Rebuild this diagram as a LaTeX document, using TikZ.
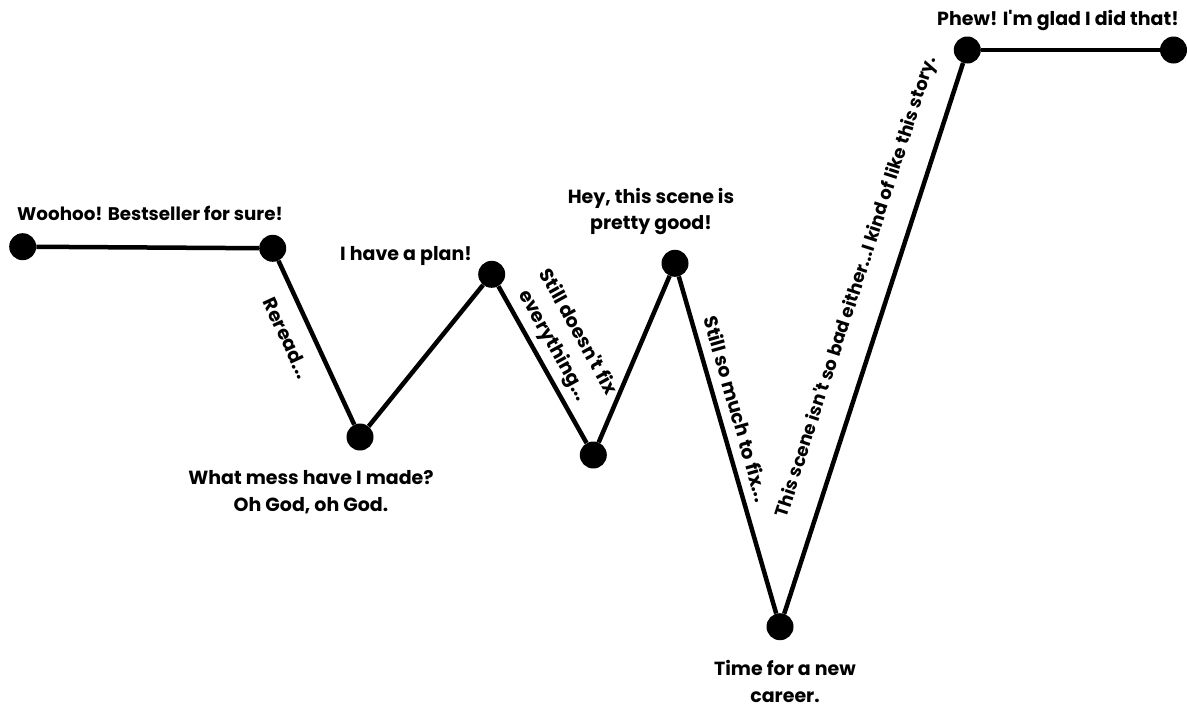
\documentclass[tikz,border=0pt]{standalone}
\usepackage{fontspec}
\setmainfont{Poppins}
\newcommand{\apo}{\textquotesingle}
\begin{document}
\begin{tikzpicture}[x=1pt,y=-1pt,
  dot/.style={circle,fill=black,draw=none,minimum size=27pt,inner sep=0pt},
  conn/.style={line width=4.5pt,black},
  lbl/.style={font=\bfseries\fontsize{19}{26.5}\selectfont,inner sep=0pt,align=center},
  slbl/.style={font=\bfseries\fontsize{19}{28}\selectfont,inner sep=0pt,align=center}]
\useasboundingbox[fill=white] (0,0) rectangle (1187,707);
% points
\node[dot] (p1) at (22.7,246.7) {};
\node[dot] (p2) at (272.7,248.3) {};
\node[dot] (p3) at (360,437) {};
\node[dot] (p4) at (491.7,274.3) {};
\node[dot] (p5) at (593.3,455) {};
\node[dot] (p6) at (675,263.3) {};
\node[dot] (p7) at (780,626.7) {};
\node[dot] (p8) at (967.3,50) {};
\node[dot] (p9) at (1173.5,50) {};
% connectors
\draw[conn] (p1) -- (p2);
\draw[conn] (p2) -- (p3);
\draw[conn] (p3) -- (p4);
\draw[conn] (p4) -- (p5);
\draw[conn] (p5) -- (p6);
\draw[conn] (p6) -- (p7);
\draw[conn] (p7) -- (p8);
\draw[conn] (p8) -- (p9);
% horizontal labels
\node[lbl,font=\bfseries\fontsize{18.3}{26}\selectfont] (t1) at (150,213) {Woohoo! Bestseller for sure!};
\node[lbl] (t2) at (406,256) {I have a plan!};
\node[lbl] (t3) at (311,492) {What mess have I made?\\Oh God, oh God.};
\node[lbl] (t4) at (651,211.5) {Hey, this scene is\\pretty good!};
\node[lbl] (t5) at (785,681.5) {Time for a new\\career.};
\node[lbl] (t6) at (1058,21) {Phew! I\apo m glad I did that!};
% sloped labels
\node[slbl,rotate=-65.2] (s1) at (287,338) {Reread...};
\node[slbl,rotate=-61] (s2) at (565,339) {Still doesn\apo t fix\\everything...};
\node[slbl,rotate=-74] (s3) at (737,409) {Still so much to fix...};
\node[slbl,rotate=72,font=\bfseries\fontsize{18}{22}\selectfont] (s4) at (857,287) {This scene isn\apo t so bad either...I kind of like this story.};
\end{tikzpicture}
\end{document}
